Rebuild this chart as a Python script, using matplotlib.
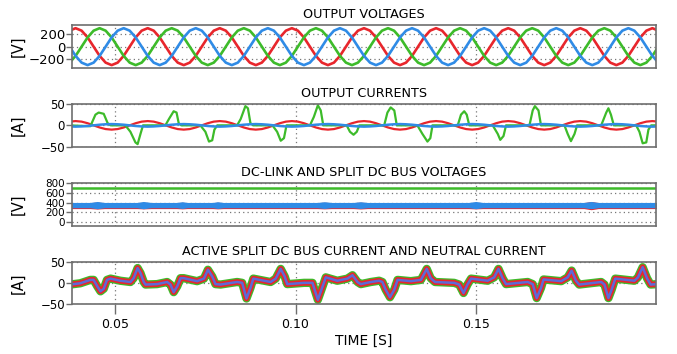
import numpy as np
import matplotlib.pyplot as plt

# ---- data ----
# sine traces: one sample every 1/12 of a 20 ms period
t_start = 0.03733
t_step = 0.02 / 12
n_samp = 99

# output voltages [V]
v_red = [251, 290, 251, 145, 0, -145, -251, -290, -251, -145, 0, 145,
         251, 290, 251, 145, 0, -145, -251, -290, -251, -145, 0, 145,
         251, 290, 251, 145, 0, -145, -251, -290, -251, -145, 0, 145,
         251, 290, 251, 145, 0, -145, -251, -290, -251, -145, 0, 145,
         251, 290, 251, 145, 0, -145, -251, -290, -251, -145, 0, 145,
         251, 290, 251, 145, 0, -145, -251, -290, -251, -145, 0, 145,
         251, 290, 251, 145, 0, -145, -251, -290, -251, -145, 0, 145,
         251, 290, 251, 145, 0, -145, -251, -290, -251, -145, 0, 145,
         251, 290, 251]
v_green = [-251, -145, 0, 145, 251, 290, 251, 145, 0, -145, -251, -290,
           -251, -145, 0, 145, 251, 290, 251, 145, 0, -145, -251, -290,
           -251, -145, 0, 145, 251, 290, 251, 145, 0, -145, -251, -290,
           -251, -145, 0, 145, 251, 290, 251, 145, 0, -145, -251, -290,
           -251, -145, 0, 145, 251, 290, 251, 145, 0, -145, -251, -290,
           -251, -145, 0, 145, 251, 290, 251, 145, 0, -145, -251, -290,
           -251, -145, 0, 145, 251, 290, 251, 145, 0, -145, -251, -290,
           -251, -145, 0, 145, 251, 290, 251, 145, 0, -145, -251, -290,
           -251, -145, 0]
v_blue = [0, -145, -251, -290, -251, -145, 0, 145, 251, 290, 251, 145,
          0, -145, -251, -290, -251, -145, 0, 145, 251, 290, 251, 145,
          0, -145, -251, -290, -251, -145, 0, 145, 251, 290, 251, 145,
          0, -145, -251, -290, -251, -145, 0, 145, 251, 290, 251, 145,
          0, -145, -251, -290, -251, -145, 0, 145, 251, 290, 251, 145,
          0, -145, -251, -290, -251, -145, 0, 145, 251, 290, 251, 145,
          0, -145, -251, -290, -251, -145, 0, 145, 251, 290, 251, 145,
          0, -145, -251, -290, -251, -145, 0, 145, 251, 290, 251, 145,
          0, -145, -251]

# output currents [A]
i_red = [8.7, 10, 8.7, 5, 0, -5, -8.7, -10, -8.7, -5, 0, 5,
         8.7, 10, 8.7, 5, 0, -5, -8.7, -10, -8.7, -5, 0, 5,
         8.7, 10, 8.7, 5, 0, -5, -8.7, -10, -8.7, -5, 0, 5,
         8.7, 10, 8.7, 5, 0, -5, -8.7, -10, -8.7, -5, 0, 5,
         8.7, 10, 8.7, 5, 0, -5, -8.7, -10, -8.7, -5, 0, 5,
         8.7, 10, 8.7, 5, 0, -5, -8.7, -10, -8.7, -5, 0, 5,
         8.7, 10, 8.7, 5, 0, -5, -8.7, -10, -8.7, -5, 0, 5,
         8.7, 10, 8.7, 5, 0, -5, -8.7, -10, -8.7, -5, 0, 5,
         8.7, 10, 8.7]
i_blue = [-2.5, -3, -2.5, -1.5, 0, 1.5, 2.5, 3, 2.5, 1.5, 0, -1.5,
          -2.5, -3, -2.5, -1.5, 0, 1.5, 2.5, 3, 2.5, 1.5, 0, -1.5,
          -2.5, -3, -2.5, -1.5, 0, 1.5, 2.5, 3, 2.5, 1.5, 0, -1.5,
          -2.5, -3, -2.5, -1.5, 0, 1.5, 2.5, 3, 2.5, 1.5, 0, -1.5,
          -2.5, -3, -2.5, -1.5, 0, 1.5, 2.5, 3, 2.5, 1.5, 0, -1.5,
          -2.5, -3, -2.5, -1.5, 0, 1.5, 2.5, 3, 2.5, 1.5, 0, -1.5,
          -2.5, -3, -2.5, -1.5, 0, 1.5, 2.5, 3, 2.5, 1.5, 0, -1.5,
          -2.5, -3, -2.5, -1.5, 0, 1.5, 2.5, 3, 2.5, 1.5, 0, -1.5,
          -2.5, -3, -2.5]

# green phase current: pulses, vertices
i_green_t = [0.0370, 0.0431, 0.0445, 0.0454, 0.0468, 0.0479, 0.0487,
             0.0528, 0.0542, 0.0556, 0.0562, 0.0570, 0.0577,
             0.0639, 0.0649, 0.0662, 0.0670, 0.0676, 0.0683,
             0.0736, 0.0750, 0.0760, 0.0769, 0.0775, 0.0783,
             0.0838, 0.0848, 0.0861, 0.0868, 0.0875, 0.0883,
             0.0936, 0.0949, 0.0959, 0.0968, 0.0975,
             0.1040, 0.1051, 0.1062, 0.1070, 0.1077,
             0.1142, 0.1151, 0.1161, 0.1170, 0.1177,
             0.1246, 0.1255, 0.1264, 0.1274, 0.1281,
             0.1338, 0.1352, 0.1366, 0.1374, 0.1380,
             0.1450, 0.1459, 0.1468, 0.1475, 0.1482,
             0.1547, 0.1561, 0.1568, 0.1577, 0.1584,
             0.1649, 0.1658, 0.1664, 0.1674, 0.1681,
             0.1746, 0.1755, 0.1764, 0.1774, 0.1781,
             0.1848, 0.1862, 0.1868, 0.1875, 0.1883,
             0.1945, 0.1954, 0.1963, 0.1973, 0.1979, 0.1987, 0.2010]
i_green = [0, -2, 25, 30, 27, 5, 0,
           0, -15, -40, -44, -20, 0,
           0, 15, 33, 30, 5, 0,
           0, -15, -38, -35, -10, 0,
           0, 15, 45, 40, 5, 0,
           0, -15, -36, -30, 0,
           0, 20, 47, 35, 0,
           0, -15, -22, -15, 0,
           0, 30, 42, 35, 0,
           0, -20, -38, -30, 0,
           0, 25, 33, 25, 0,
           0, -20, -34, -25, 0,
           0, 35, 45, 35, 0,
           0, -20, -37, -20, 0,
           0, 30, 40, 25, 0,
           0, -15, -42, -40, -10, 0, 0]

# dc-link and split dc bus voltages [V]
dc_link = 700
dc_t = [0.037, 0.043, 0.045, 0.047, 0.056, 0.0578, 0.060, 0.067, 0.0686,
        0.070, 0.077, 0.0784, 0.080, 0.106, 0.108, 0.110, 0.116, 0.118,
        0.120, 0.148, 0.150, 0.152, 0.180, 0.182, 0.184, 0.201]
dc_blue_mid = 350
dc_blue_half = [55, 55, 75, 55, 55, 75, 55, 55, 70, 55, 55, 70, 55, 55, 70,
                55, 55, 70, 55, 55, 75, 55, 55, 75, 55, 55]
dc_red_mid = 340
dc_red_half = [62, 62, 72, 62, 62, 68, 62, 62, 68, 62, 62, 68, 62, 62, 68,
               62, 62, 70, 62, 62, 68, 62, 62, 85, 62, 62]

# active split dc bus currents and neutral current [A]
# (the three traces sit on top of each other, one shape read)
act_t = [0.0375, 0.0403, 0.0431, 0.0440, 0.0450, 0.0459, 0.0468, 0.0477,
         0.0487, 0.0514, 0.0542, 0.0551, 0.0562, 0.0570, 0.0579, 0.0584,
         0.0616, 0.0644, 0.0653, 0.0662, 0.0672, 0.0681, 0.0690, 0.0727,
         0.0746, 0.0757, 0.0769, 0.0778, 0.0792, 0.0838, 0.0852, 0.0864,
         0.0875, 0.0883, 0.0931, 0.0945, 0.0959, 0.0970, 0.0977, 0.1024,
         0.1047, 0.1062, 0.1072, 0.1084, 0.1116, 0.1144, 0.1158, 0.1172,
         0.1181, 0.1209, 0.1232, 0.1241, 0.1250, 0.1262, 0.1274, 0.1283,
         0.1320, 0.1348, 0.1364, 0.1375, 0.1387, 0.1440, 0.1454, 0.1466,
         0.1477, 0.1487, 0.1533, 0.1551, 0.1563, 0.1575, 0.1584, 0.1644,
         0.1658, 0.1669, 0.1681, 0.1688, 0.1737, 0.1755, 0.1766, 0.1778,
         0.1787, 0.1848, 0.1857, 0.1868, 0.1877, 0.1887, 0.1940, 0.1950,
         0.1963, 0.1975, 0.1985, 0.2005]
act_i = [-4, -1, 7, 7, -8, -20, -14, 7,
         10, 5, 2, 11, 35, 23, 2, -4,
         -3, 2, -4, -22, -8, 11, 11, 4,
         10, 31, 15, -3, -4, 2, 0, -37,
         -12, 10, 2, 10, 33, 15, -3, 0,
         0, -40, -16, 13, 5, 10, 18, 2,
         -3, 2, 5, 2, -16, -34, -16, 7,
         4, 7, 33, 11, 2, 0, -4, -24,
         -4, 10, 5, 13, 33, 10, -3, 2,
         -3, -36, -12, 8, 4, 13, 29, 5,
         -4, 2, -4, -36, -16, 10, 5, 13,
         37, 11, -4, -3]

titles = ["OUTPUT VOLTAGES", "OUTPUT CURRENTS",
          "DC-LINK AND SPLIT DC BUS VOLTAGES",
          "ACTIVE SPLIT DC BUS CURRENT AND NEUTRAL CURRENT"]
ylabels = ["[V]", "[A]", "[V]", "[A]"]
yticks = [[-200, 0, 200], [-50, 0, 50], [0, 200, 400, 600, 800], [-50, 0, 50]]
ylims = [(-340, 340), (-50, 50), (-75, 800), (-50, 50)]
xticks = [0.05, 0.10, 0.15]
xticklabels = ["0.05", "0.10", "0.15"]

RED = "#e8262c"
GREEN = "#3dbb2a"
BLUE = "#2f8be6"
MIX = "#5d6ad6"

t_v = t_start + t_step * np.arange(n_samp)

fig = plt.figure(figsize=(6.77, 3.54), dpi=100)
W, H = 677, 354
boxes = [(25, 68.3), (104, 146.7), (183.3, 225.7), (261.7, 304)]
axs = []
for top, bot in boxes:
    axs.append(fig.add_axes([72 / W, 1 - bot / H, 584 / W, (bot - top) / H]))

for k, ax in enumerate(axs):
    ax.set_xlim(0.038, 0.2)
    ax.set_ylim(*ylims[k])
    ax.set_yticks(yticks[k])
    ax.set_xticks(xticks)
    ax.grid(True, linestyle=(0, (1, 2.5)), color="#777777", linewidth=0.9)
    ax.set_axisbelow(True)
    for s in ax.spines.values():
        s.set_color("#6e6e6e")
        s.set_linewidth(1.2)
    ax.tick_params(axis="y", length=4, width=1, color="#6e6e6e",
                   labelsize=8.5, pad=1)
    ax.set_title(titles[k], fontsize=9.2, pad=5)
    ax.set_ylabel(ylabels[k], fontsize=10.5)
    ax.yaxis.set_label_coords(-0.08, 0.5)
    if k < 3:
        ax.tick_params(axis="x", length=0, labelbottom=False)

axs[0].tick_params(axis="y", labelsize=9.5)
axs[2].tick_params(axis="y", labelsize=7.5)

# output voltages
ax = axs[0]
ax.plot(t_v, v_red, color=RED, lw=1.9)
ax.plot(t_v, v_green, color=GREEN, lw=1.9)
ax.plot(t_v, v_blue, color=BLUE, lw=1.9)

# output currents
ax = axs[1]
ax.plot(t_v, i_red, color=RED, lw=1.6)
ax.plot(i_green_t, i_green, color=GREEN, lw=1.6)
ax.plot(t_v, i_blue, color=BLUE, lw=1.8)

# dc-link
ax = axs[2]
ax.axhline(dc_link, color=GREEN, lw=1.8)
dc_t_a = np.array(dc_t)
ax.fill_between(dc_t_a, dc_red_mid - np.array(dc_red_half),
                dc_red_mid + np.array(dc_red_half), color=RED, lw=0)
ax.fill_between(dc_t_a, dc_blue_mid - np.array(dc_blue_half),
                dc_blue_mid + np.array(dc_blue_half), color=BLUE, lw=0)

# active split dc bus currents and neutral current
ax = axs[3]
ax.plot(act_t, act_i, color=GREEN, lw=6, solid_joinstyle="round")
ax.plot(act_t, act_i, color=RED, lw=4.2, solid_joinstyle="round")
ax.plot(act_t, act_i, color=MIX, lw=1.8)
ax.set_xticklabels(xticklabels)
ax.tick_params(axis="x", length=7, width=1, color="#6e6e6e",
               labelsize=9, pad=3)
ax.set_xlabel("TIME [S]", fontsize=10)
ax.xaxis.set_label_coords(0.5, -0.71)

fig.savefig("out.png", dpi=100)
